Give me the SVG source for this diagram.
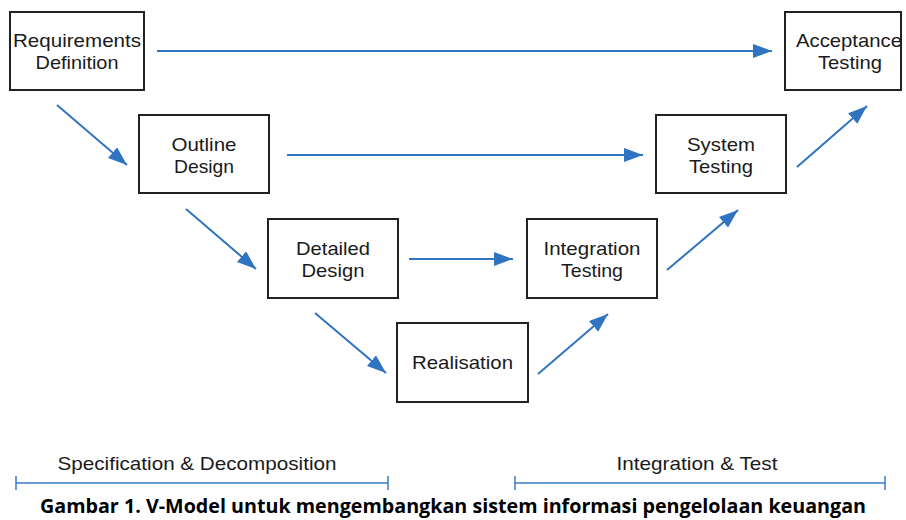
<svg xmlns="http://www.w3.org/2000/svg" width="906" height="520" viewBox="0 0 906 520">
<style>
.box{fill:#fff;stroke:#222;stroke-width:2}
.t{font-family:"Liberation Sans",Arial,sans-serif;font-size:19px;fill:#1a1a1a;text-anchor:middle}
.c{stroke:#2f74c0;stroke-width:2;fill:none;marker-end:url(#ah)}
.b{stroke:#3a7bc8;stroke-width:1.5;fill:none}
.cap{font-family:"Open Sans","Liberation Sans",Arial,sans-serif;font-size:19px;font-weight:bold;fill:#000;text-anchor:middle}
</style>
<defs>
<marker id="ah" markerUnits="userSpaceOnUse" markerWidth="20" markerHeight="16" refX="19" refY="7" orient="auto">
<path d="M0,0 L19,7 L0,14 z" fill="#2f74c0"/>
</marker>
</defs>
<rect width="906" height="520" fill="#fff"/>
<g id="req">
<rect class="box" x="10" y="12" width="134" height="78"/>
<text class="t" x="77" y="47" textLength="128" lengthAdjust="spacingAndGlyphs">Requirements</text>
<text class="t" x="77" y="69" textLength="83" lengthAdjust="spacingAndGlyphs">Definition</text>
</g>
<g id="outline">
<rect class="box" x="139" y="115" width="130" height="78"/>
<text class="t" x="204" y="151" textLength="65" lengthAdjust="spacingAndGlyphs">Outline</text>
<text class="t" x="204" y="173" textLength="60" lengthAdjust="spacingAndGlyphs">Design</text>
</g>
<g id="detailed">
<rect class="box" x="268" y="219" width="130" height="79"/>
<text class="t" x="333" y="255" textLength="74" lengthAdjust="spacingAndGlyphs">Detailed</text>
<text class="t" x="333" y="277" textLength="63" lengthAdjust="spacingAndGlyphs">Design</text>
</g>
<g id="realisation">
<rect class="box" x="397" y="323" width="131" height="79"/>
<text class="t" x="462.5" y="369" textLength="101" lengthAdjust="spacingAndGlyphs">Realisation</text>
</g>
<g id="integration">
<rect class="box" x="527" y="219" width="130" height="79"/>
<text class="t" x="592" y="255" textLength="97" lengthAdjust="spacingAndGlyphs">Integration</text>
<text class="t" x="592" y="277" textLength="62" lengthAdjust="spacingAndGlyphs">Testing</text>
</g>
<g id="system">
<rect class="box" x="656" y="115" width="130" height="78"/>
<text class="t" x="721" y="151" textLength="68" lengthAdjust="spacingAndGlyphs">System</text>
<text class="t" x="721" y="173" textLength="64" lengthAdjust="spacingAndGlyphs">Testing</text>
</g>
<g id="acceptance">
<rect class="box" x="785" y="12" width="116" height="78"/>
<text class="t" x="849" y="47" textLength="106" lengthAdjust="spacingAndGlyphs">Acceptance</text>
<text class="t" x="850" y="69" textLength="64" lengthAdjust="spacingAndGlyphs">Testing</text>
</g>
<g id="connectors">
<line class="c" x1="157" y1="51" x2="772" y2="51"/>
<line class="c" x1="287" y1="155" x2="643" y2="155"/>
<line class="c" x1="409" y1="259" x2="513" y2="259"/>
<line class="c" x1="57" y1="105" x2="127" y2="165"/>
<line class="c" x1="186" y1="209" x2="256" y2="269"/>
<line class="c" x1="315" y1="313" x2="386" y2="373"/>
<line class="c" x1="538" y1="374" x2="608" y2="314"/>
<line class="c" x1="667" y1="270" x2="738" y2="210"/>
<line class="c" x1="797" y1="167" x2="867" y2="106"/>
</g>
<g id="phases">
<text class="t" x="197" y="470" textLength="279" lengthAdjust="spacingAndGlyphs">Specification &amp; Decomposition</text>
<text class="t" x="697" y="470" textLength="161" lengthAdjust="spacingAndGlyphs">Integration &amp; Test</text>
<path class="b" d="M16,483 H388 M16,476 V490 M388,476 V490"/>
<path class="b" d="M515,483 H885 M515,476 V490 M885,476 V490"/>
</g>
<text class="cap" x="453" y="513" textLength="826" lengthAdjust="spacingAndGlyphs">Gambar 1. V-Model untuk mengembangkan sistem informasi pengelolaan keuangan</text>
</svg>
